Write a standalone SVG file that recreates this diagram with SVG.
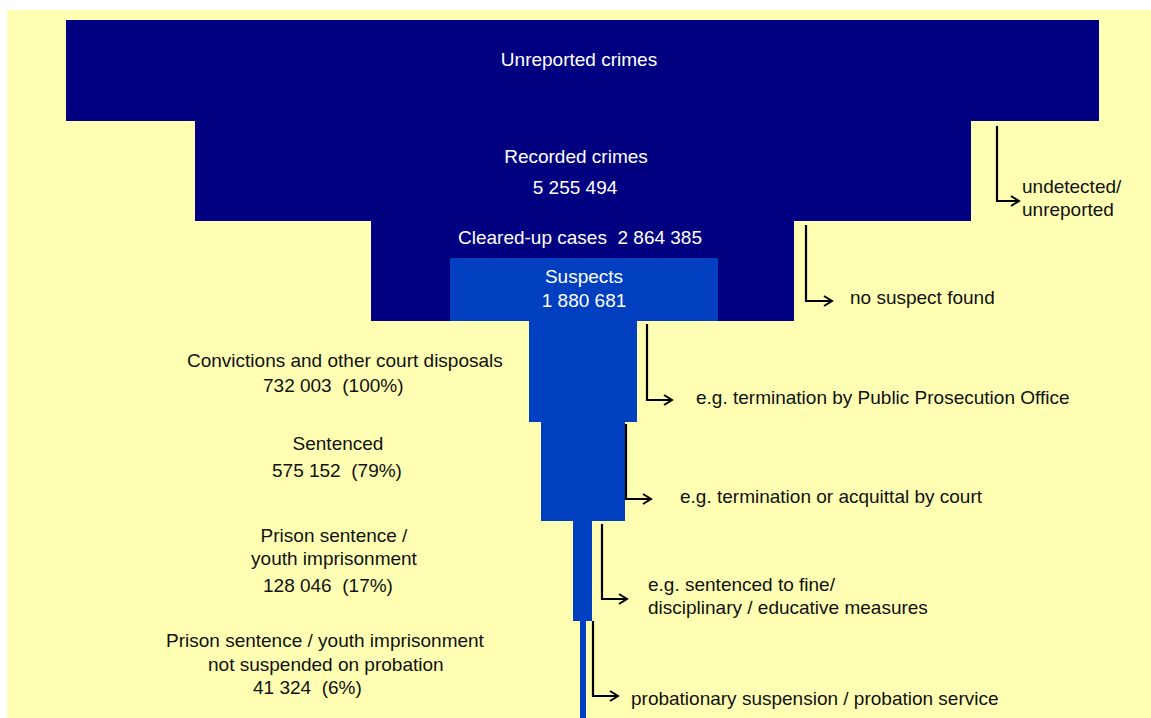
<svg xmlns="http://www.w3.org/2000/svg" width="1151" height="718" viewBox="0 0 1151 718">
<defs>
<marker id="arr" markerUnits="userSpaceOnUse" markerWidth="14" markerHeight="14" refX="11" refY="7" orient="auto">
<polyline points="3,2 11,7 3,12" fill="none" stroke="#000" stroke-width="2"/>
</marker>
</defs>
<style>
.t{font-family:"Liberation Sans",Arial,sans-serif;font-size:19px;white-space:pre}
.w{fill:#ffffff}
.k{fill:#111111}
.dark{fill:#000080}
.blue{fill:#0040C0}
.c{fill:none;stroke:#000;stroke-width:2.2;marker-end:url(#arr)}
</style>
<rect x="7" y="10" width="1144" height="708" fill="#FFFFB3"/>
<g id="unreported">
<rect class="dark" x="66" y="20" width="1033" height="101"/>
<text class="t w" x="579" y="66" text-anchor="middle">Unreported crimes</text>
</g>
<g id="recorded">
<rect class="dark" x="195" y="120" width="776" height="101"/>
<text class="t w" x="576" y="163" text-anchor="middle">Recorded crimes</text>
<text class="t w" x="575" y="194" text-anchor="middle">5 255 494</text>
</g>
<g id="cleared">
<rect class="dark" x="371" y="220" width="423" height="101"/>
<text class="t w" x="580" y="244" text-anchor="middle" xml:space="preserve">Cleared-up cases  2 864 385</text>
</g>
<g id="suspects">
<rect class="blue" x="450" y="258" width="268" height="63"/>
<text class="t w" x="584" y="283" text-anchor="middle">Suspects</text>
<text class="t w" x="584" y="307" text-anchor="middle">1 880 681</text>
</g>
<g id="convictions">
<rect class="blue" x="529" y="320" width="108" height="102"/>
<text class="t k" x="187" y="367">Convictions and other court disposals</text>
<text class="t k" x="263" y="392" xml:space="preserve">732 003  (100%)</text>
</g>
<g id="sentenced">
<rect class="blue" x="541" y="421" width="84" height="100"/>
<text class="t k" x="338" y="450" text-anchor="middle">Sentenced</text>
<text class="t k" x="272" y="477" xml:space="preserve">575 152  (79%)</text>
</g>
<g id="prison">
<rect class="blue" x="573" y="520" width="19" height="101"/>
<text class="t k" x="334" y="542" text-anchor="middle">Prison sentence /</text>
<text class="t k" x="334" y="565" text-anchor="middle">youth imprisonment</text>
<text class="t k" x="263" y="592" xml:space="preserve">128 046  (17%)</text>
</g>
<g id="notsuspended">
<rect class="blue" x="580" y="620" width="6" height="98"/>
<text class="t k" x="166" y="647">Prison sentence / youth imprisonment</text>
<text class="t k" x="208" y="671">not suspended on probation</text>
<text class="t k" x="253" y="694" xml:space="preserve">41 324  (6%)</text>
</g>
<g id="connectors">
<polyline class="c" points="997,126 997,201 1019,201"/>
<polyline class="c" points="806,225 806,301 832,301"/>
<polyline class="c" points="647,324 647,400 672,400"/>
<polyline class="c" points="626,424 626,499 651,499"/>
<polyline class="c" points="602,524 602,599 627,599"/>
<polyline class="c" points="593,621 593,696 618,696"/>
</g>
<g id="labels">
<text class="t k" x="1022" y="193">undetected/</text>
<text class="t k" x="1022" y="216">unreported</text>
<text class="t k" x="850" y="304">no suspect found</text>
<text class="t k" x="696" y="404">e.g. termination by Public Prosecution Office</text>
<text class="t k" x="680" y="503">e.g. termination or acquittal by court</text>
<text class="t k" x="648" y="591">e.g. sentenced to fine/</text>
<text class="t k" x="648" y="614">disciplinary / educative measures</text>
<text class="t k" x="631" y="705">probationary suspension / probation service</text>
</g>
</svg>
